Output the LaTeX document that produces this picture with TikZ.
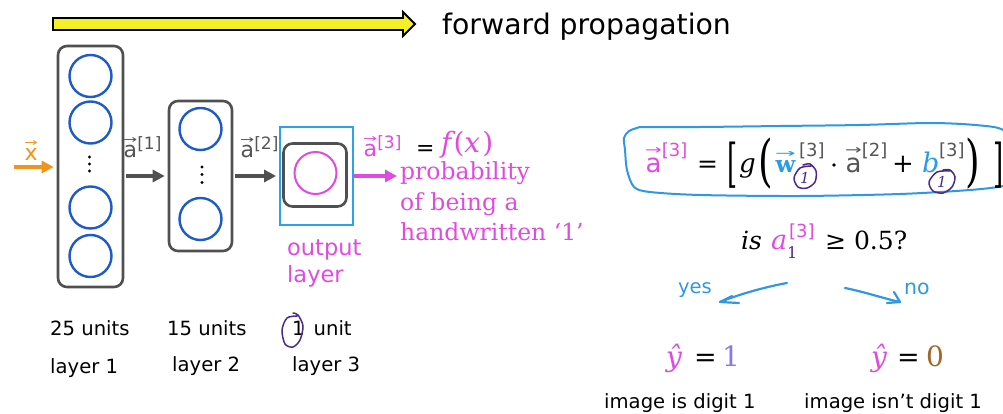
\documentclass[tikz,border=0pt]{standalone}
\usepackage{fix-cm}
\usepackage{fontspec}
\usepackage{graphicx}
\usetikzlibrary{arrows.meta}
\newfontfamily\sansf{DejaVu Sans}
\newfontfamily\seriff{DejaVu Serif}
\newcommand\fs[1]{\fontsize{#1}{#1}\selectfont}
% letter with a vector arrow as wide as the letter set above it
\newcommand\vecsym[1]{\leavevmode\setbox0\hbox{#1}\vbox{\offinterlineskip\halign{\hfil##\hfil\cr
  \resizebox{1.05\wd0}{0.27em}{\sansf\mdseries\upshape →}\cr\noalign{\kern0.12em}\box0\cr}}}
% bracketed superscript: raise, size, content
\newcommand\supbr[3]{\raisebox{#1pt}{\fs{#2}[#3]}}
% tall delimiter: hscale, vscale, lower, glyph
\newcommand\talldelim[4]{\raisebox{-#3pt}{\scalebox{#1}[#2]{#4}}}

\definecolor{boxgray}{HTML}{505050}
\definecolor{unitblue}{HTML}{1F5BC6}
\definecolor{outblue}{HTML}{2CA2E8}
\definecolor{mag}{HTML}{E04BDF}
\definecolor{inorange}{HTML}{F0941C}
\definecolor{fwdyellow}{HTML}{F5F023}
\definecolor{inkblue}{HTML}{2E98E0}
\definecolor{inkpurple}{HTML}{4B2A8C}
\definecolor{lav}{HTML}{8878EE}
\definecolor{brownc}{HTML}{A3662A}
\definecolor{wblue}{HTML}{2A9BE6}
\definecolor{txtgray}{HTML}{555555}

\tikzset{
  layerbox/.style={draw=boxgray, line width=2.6pt, rounded corners=9pt, inner sep=0pt},
  unitc/.style={circle, draw=unitblue, line width=2.4pt, minimum size=42pt, inner sep=0pt},
  garrow/.style={draw=boxgray, line width=3.6pt, -{Triangle[length=12pt,width=12pt]}, shorten <=2pt, shorten >=3pt},
  oarrow/.style={draw=inorange, line width=3.6pt, -{Triangle[length=12pt,width=12pt]}, shorten >=3pt},
  marrow/.style={draw=mag, line width=3.6pt, -{Triangle[length=12pt,width=12pt]}},
  lbl/.style={inner sep=0pt, anchor=base west},
  sanslbl/.style={lbl, font=\sansf\fs{19.6}},
  ink/.style={draw=inkblue, line width=2.2pt, line cap=round, line join=round},
  pink/.style={draw=inkpurple, line width=1.5pt, line cap=round},
}

\begin{document}
\begin{tikzpicture}[x=1pt,y=-1pt]
\useasboundingbox (0,0) rectangle (1003,414);

% forward propagation banner
\draw[line width=1.8pt, fill=fwdyellow, line join=miter]
  (53,18) -- (403,18) -- (403,12) -- (415,24) -- (403,36) -- (403,30) -- (53,30) -- cycle;
\node[lbl, font=\sansf\fs{28.3}] (fwd) at (442,35) {forward propagation};

% layer 1
\node[layerbox, minimum width=65pt, minimum height=241pt] (L1) at (90.5,166.5) {};
\node[unitc] (n11) at (90.5,76) {};
\node[unitc] (n12) at (90.5,122.5) {};
\node[unitc] (n13) at (90.5,207.5) {};
\node[unitc] (n14) at (90.5,256) {};
\foreach \yy in {157,164,171} \fill (89.5,\yy) circle (1.7pt);

% layer 2
\node[layerbox, minimum width=63pt, minimum height=150pt] (L2) at (200.5,176) {};
\node[unitc] (n21) at (200.5,129) {};
\node[unitc] (n22) at (200.5,219) {};
\foreach \yy in {167,174.5,182.5} \fill (202,\yy) circle (1.7pt);

% layer 3 (output)
\node[draw=outblue, line width=1.8pt, minimum width=73pt, minimum height=98pt, inner sep=0pt] (outer) at (316.5,176) {};
\node[layerbox, minimum width=63pt, minimum height=63pt] (inner) at (315,175) {};
\node[unitc, draw=mag, line width=2pt] (n31) at (315.5,173) {};

% connectors
\coordinate (xin) at (14,167);
\draw[oarrow] (xin) -- (L1.west |- xin);
\draw[garrow] (L1.east |- L2.west) -- (L2.west);
\draw[garrow] (L2.east) -- (outer.west);
\coordinate (pend) at (397,176);
\draw[marrow] (outer.east) -- (pend);

% activation labels
\node[lbl, text=inorange, font=\sansf\fs{22}] (xlab) at (24,161) {\vecsym{x}};
\node[lbl, text=txtgray, font=\sansf\fs{22}] (a1) at (123,158) {\vecsym{a}\supbr{8}{17}{1}};
\node[lbl, text=txtgray, font=\sansf\fs{22}] (a2) at (240,158) {\vecsym{a}\supbr{8}{17}{2}};
\node[lbl, text=mag, font=\sansf\fs{22}] (a3) at (363,157) {\vecsym{a}\supbr{8}{17}{3}};
\node[lbl, font=\sansf\fs{22}] (a3eq) at (416,156) {=};
\node[lbl, text=mag, font=\seriff\fs{28}] (fx) at (441,153) {\itshape f\kern2pt\upshape(\itshape x\kern2pt\upshape)};

% output description
\node[lbl, text=mag, font=\seriff\fs{23.5}] (p1) at (400,180) {probability};
\node[lbl, text=mag, font=\seriff\fs{23.5}] (p2) at (400,210) {of being a};
\node[lbl, text=mag, font=\seriff\fs{23.5}] (p3) at (400,240) {handwritten ‘1’};
\node[lbl, text=mag, font=\sansf\fs{22.5}] (o1) at (287,255) {output};
\node[lbl, text=mag, font=\sansf\fs{22.5}] (o2) at (287,282) {layer};

% layer captions
\node[sanslbl] (u1) at (50,335) {25 units};
\node[sanslbl] (u2) at (167,335) {15 units};
\node[sanslbl] (u3) at (292,335) {1\kern9pt unit};
\node[sanslbl] (c1) at (50,373) {layer 1};
\node[sanslbl] (c2) at (172,371) {layer 2};
\node[sanslbl] (c3) at (292,371) {layer 3};
\draw[pink] plot[smooth] coordinates {(297,316) (287,318) (282,330) (285,344) (293,347) (300,340) (303,326) (298,315) (293,313)};

% boxed equation
\begin{scope}
\clip (0,0) rectangle (1003,414);
\draw[ink, line width=2pt] plot[smooth] coordinates {
  (640,127) (700,127) (780,126) (860,125) (930,123) (975,125) (1003,130) (1012,150)
  (1010,180) (1003,186) (970,190) (900,194) (800,196) (700,195) (650,192) (634,187)
  (627,170) (625,150) (624,138) (629,131) (640,127)};
\end{scope}
\node[lbl, text=mag, font=\sansf\fs{26}] (ea) at (645,172) {\vecsym{a}\supbr{15}{18}{3}};
\node[lbl, font=\seriff\fs{25}] (eeq) at (697,172) {=};
\node[lbl, font=\seriff\fs{26}] (ebl) at (727,172) {\talldelim{1}{2}{9.5}{[}};
\node[lbl, font=\seriff\fs{26}] (eg) at (739,172) {\itshape g};
\node[lbl, font=\seriff\fs{30}] (epl) at (758,172) {\talldelim{1.25}{1.87}{8.7}{(}};
\node[lbl, text=wblue, font=\seriff\bfseries\fs{23}] (ew) at (775,172) {\vecsym{w}};
\node[lbl, text=txtgray, font=\sansf\fs{18}] (ews) at (799,157) {[3]};
\node[text=inkpurple, font=\seriff\itshape\fs{15}, inner sep=0pt] (ew1) at (805,178) {1};
\draw[pink] plot[smooth] coordinates {(811,166) (800,168) (794,178) (798,187) (807,188) (815,182) (816,171) (810,164) (803,165)};
\fill (834,165) circle (1.8pt);
\node[lbl, text=txtgray, font=\sansf\fs{26}] (ea2) at (845,172) {\vecsym{a}\supbr{15}{18}{2}};
\node[lbl, font=\seriff\fs{26}] (eplus) at (892,172) {+};
\node[lbl, text=wblue, font=\seriff\fs{27}] (eb) at (922,172) {\itshape b};
\node[lbl, text=txtgray, font=\sansf\fs{18}] (ebs) at (939,157) {[3]};
\node[text=inkpurple, font=\seriff\itshape\fs{15}, inner sep=0pt] (eb1) at (942,182) {1};
\draw[pink] plot[smooth] coordinates {(950,171) (937,172) (929,182) (933,191) (943,193) (952,187) (955,177) (950,170) (943,170)};
\node[lbl, font=\seriff\fs{30}] (epr) at (965,172) {\talldelim{1.25}{1.87}{8.7}{)}};
\node[lbl, font=\seriff\fs{26}] (ebr) at (993,172) {\talldelim{1}{2}{9.5}{]}};

% threshold test
\node[lbl, font=\seriff\itshape\fs{25}] (tis) at (741,249) {is};
\node[lbl, text=mag, font=\seriff\itshape\fs{27}] (ta) at (771,249) {a};
\node[lbl, text=inkpurple, font=\seriff\fs{16}] (tsub) at (787,258) {1};
\node[lbl, text=mag, font=\sansf\fs{18}] (tsup) at (789,237) {[3]};
\node[lbl, font=\seriff\fs{25}] (tge) at (825,249) {≥ 0.5?};

% yes / no strokes
\node[text=inkblue, font=\sansf\fs{19.5}, inner sep=0pt] (yes) at (695,290) {yes};
\node[text=inkblue, font=\sansf\fs{20.5}, inner sep=0pt] (no) at (917,289) {no};
\coordinate (ys) at (787,283);
\coordinate (ye) at (720,302);
\draw[ink] (ys) .. controls (765,287) and (740,294) .. (ye);
\coordinate (yh1) at (732,296);
\coordinate (yh2) at (739,303);
\draw[ink] (yh1) -- (ye) -- (yh2);
\coordinate (ns) at (845,288);
\coordinate (ne) at (900,302);
\draw[ink] (ns) .. controls (865,292) and (882,298) .. (ne);
\coordinate (nh1) at (887,303);
\coordinate (nh2) at (894,292);
\draw[ink] (nh1) -- (ne) -- (nh2);

% predictions
\node[lbl, text=mag, font=\seriff\itshape\fs{28}] (y1) at (666,366) {ŷ};
\node[lbl, font=\seriff\fs{27}] (y1eq) at (694,366) {=};
\node[lbl, text=lav, font=\seriff\fs{28}] (y1v) at (722,366) {1};
\node[lbl, text=mag, font=\seriff\itshape\fs{28}] (y0) at (871,366) {ŷ};
\node[lbl, font=\seriff\fs{27}] (y0eq) at (897,366) {=};
\node[lbl, text=brownc, font=\seriff\fs{28}] (y0v) at (926,366) {0};
\node[sanslbl] (r1) at (604,408) {image is digit 1};
\node[sanslbl] (r0) at (804,408) {image isn’t digit 1};
\end{tikzpicture}
\end{document}
